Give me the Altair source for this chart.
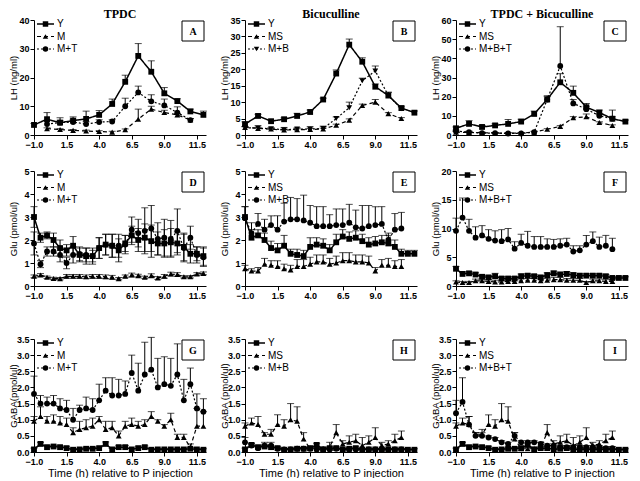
import altair as alt
import pandas as pd

# ---------------- time grids ----------------
HOURS = [-1, 0, 1, 2, 3, 4, 5, 6, 7, 8, 9, 10, 11, 12]
HALF = [-1.0, -0.5, 0.0, 0.5, 1.0, 1.5, 2.0, 2.5, 3.0, 3.5, 4.0, 4.5, 5.0, 5.5,
        6.0, 6.5, 7.0, 7.5, 8.0, 8.5, 9.0, 9.5, 10.0, 10.5, 11.0, 11.5, 12.0]

# ---------------- Panel A : LH, TPDC ----------------
A_Y = [3.5, 5.5, 4.3, 5.0, 5.6, 7.0, 10.8, 18.5, 27.5, 22.0, 14.5, 11.8, 8.2, 7.0]
A_Y_ERR = [0.5, 2.3, 1.7, 1.3, 2.7, 1.5, 1.7, 2.3, 4.3, 3.8, 2.0, 0.8, 0.8, 1.3]
A_M = [2.2, 1.9, 1.6, 1.4, 1.2, 1.0, 1.8, 5.5, 9.0, 7.8, 7.0, 5.2]
A_M_ERR = [0.3, 0.3, 0.3, 0.3, 0.3, 0.3, 0.3, 3.5, 1.0, 0.8, 0.5, 0.5]
A_MT = [3.8, 4.3, 4.5, 3.8, 4.5, 4.7, 10.0, 14.8, 11.7, 10.3, 7.8, 5.2]
A_MT_ERR = [1.2, 0.8, 1.0, 0.8, 0.8, 0.6, 2.8, 2.2, 2.3, 2.2, 2.0, 0.5]

# ---------------- Panel B : LH, Bicuculline ----------------
B_Y = [3.3, 5.8, 4.2, 4.8, 5.8, 7.0, 10.8, 18.7, 27.5, 22.3, 14.7, 12.0, 8.2, 6.8]
B_Y_ERR = [0.7, 0.5, 0.3, 0.4, 0.8, 0.6, 0.4, 1.1, 1.7, 1.2, 0.8, 1.0, 0.6, 0.5]
B_MS = [2.3, 2.0, 1.8, 1.5, 1.6, 1.7, 1.8, 3.0, 4.5, 9.0, 10.0, 6.5, 5.0]
B_MS_ERR = [0.3, 0.3, 0.3, 0.3, 0.3, 0.3, 0.3, 0.3, 0.4, 0.4, 0.8, 0.3, 0.3]
B_MB = [2.2, 2.1, 1.9, 1.6, 1.8, 1.8, 2.0, 5.0, 8.3, 16.5, 19.5, 12.0, 8.0]
B_MB_ERR = [0.3, 0.7, 0.3, 0.7, 0.4, 0.7, 0.7, 0.5, 1.7, 0.8, 1.5, 1.0, 0.5]

# ---------------- Panel C : LH, TPDC + Bicuculline ----------------
C_Y = [3.5, 5.8, 4.2, 5.0, 5.8, 7.0, 11.0, 18.5, 27.5, 22.0, 14.5, 11.7, 8.5, 7.0]
C_Y_ERR = [0.7, 1.7, 0.8, 0.8, 2.3, 1.2, 1.5, 2.0, 4.5, 3.5, 2.0, 1.3, 1.0, 0.8]
C_MS = [1.5, 1.3, 1.2, 1.0, 1.0, 1.0, 1.5, 3.0, 4.5, 9.0, 9.5, 6.5, 5.0]
C_MS_ERR = [0.3, 0.3, 0.3, 0.3, 0.3, 0.3, 0.3, 0.3, 0.4, 0.6, 1.5, 0.4, 0.3]
C_MBT = [2.0, 1.5, 1.0, 1.0, 0.8, 0.8, 1.5, 18.5, 36.0, 16.5, 13.5, 10.0, 8.5]
C_MBT_ERR = [0.5, 0.5, 0.3, 0.3, 0.3, 0.3, 0.5, 1.5, 20.5, 2.0, 1.5, 1.0, 4.5]

# ---------------- Panel D : Glu, TPDC ----------------
D_Y = [3.0, 2.1, 2.2, 2.0, 1.65, 1.55, 1.75, 1.35, 1.3, 1.3, 1.65, 1.8, 1.75, 1.55,
       1.85, 2.2, 2.0, 2.1, 1.95, 1.85, 1.85, 1.9, 1.85, 1.7, 1.4, 1.4, 1.3]
D_Y_ERR = [0.45, 0.2, 0.15, 0.3, 0.35, 0.25, 0.4, 0.3, 0.35, 0.25, 0.45, 0.45, 0.5, 0.5,
           0.35, 0.4, 0.5, 0.6, 0.7, 0.5, 0.6, 0.6, 0.5, 0.6, 0.4, 0.3, 0.4]
D_M = [0.42, 0.48, 0.38, 0.33, 0.32, 0.42, 0.42, 0.42, 0.4, 0.42, 0.42, 0.4, 0.38, 0.32,
       0.42, 0.48, 0.45, 0.38, 0.45, 0.35, 0.42, 0.52, 0.5, 0.4, 0.4, 0.52, 0.55]
D_M_ERR = [0.06, 0.06, 0.05, 0.05, 0.05, 0.08, 0.08, 0.08, 0.08, 0.08, 0.08, 0.08, 0.08, 0.05,
           0.06, 0.08, 0.06, 0.05, 0.08, 0.06, 0.08, 0.08, 0.08, 0.05, 0.05, 0.06, 0.06]
D_MT = [1.85, 0.95, 1.5, 1.5, 1.35, 1.0, 1.35, 1.4, 1.35, 1.3, 1.65, 1.8, 1.75, 1.75,
        1.8, 2.45, 2.3, 2.4, 2.5, 2.05, 2.1, 2.05, 2.4, 1.65, 2.1, 1.35, 1.25]
D_MT_ERR = [0.5, 0.15, 0.2, 0.2, 0.3, 0.25, 0.35, 0.3, 0.3, 0.35, 0.45, 0.45, 0.5, 0.5,
            0.4, 0.55, 0.6, 1.0, 1.0, 0.7, 0.8, 0.8, 0.95, 0.6, 0.5, 0.35, 0.4]

# ---------------- Panel E : Glu, Bicuculline ----------------
E_Y = [3.0, 2.1, 2.2, 2.0, 1.65, 1.55, 1.75, 1.4, 1.35, 1.3, 1.7, 1.8, 1.75, 1.55,
       1.9, 2.15, 2.05, 2.1, 1.95, 1.8, 1.85, 1.9, 1.85, 1.7, 1.4, 1.4, 1.4]
E_Y_ERR = [0.45, 0.35, 0.25, 0.3, 0.3, 0.3, 0.45, 0.2, 0.25, 0.25, 0.4, 0.3, 0.3, 0.25,
           0.35, 0.3, 0.3, 0.3, 0.3, 0.3, 0.3, 0.3, 0.35, 0.3, 0.2, 0.15, 0.15]
E_MS = [0.75, 0.65, 0.65, 0.95, 0.9, 0.85, 0.75, 0.7, 0.85, 0.85, 0.95, 1.05, 1.05,
        0.95, 1.0, 1.1, 1.1, 1.05, 1.05, 1.0, 0.65, 0.9, 0.9, 0.85, 0.85]
E_MS_ERR = [0.15, 0.1, 0.15, 0.25, 0.2, 0.25, 0.2, 0.2, 0.3, 0.3, 0.3, 0.3, 0.3,
            0.25, 0.3, 0.35, 0.35, 0.3, 0.3, 0.3, 0.15, 0.25, 0.3, 0.25, 0.3]
E_MB = [2.95, 2.3, 2.7, 2.45, 2.65, 2.45, 2.8, 2.9, 2.9, 2.85, 2.75, 2.6, 2.6,
        2.6, 2.65, 2.65, 2.75, 2.55, 2.5, 2.6, 2.65, 2.7, 2.0, 2.45, 2.5]
E_MB_ERR = [0.5, 0.45, 0.45, 0.45, 0.4, 0.6, 0.8, 0.95, 0.9, 1.1, 0.75, 0.85, 0.85,
            0.5, 0.7, 0.7, 0.8, 0.75, 1.0, 0.9, 0.8, 0.75, 0.3, 0.7, 0.7]

# ---------------- Panel F : Glu, TPDC + Bicuculline ----------------
F_Y = [3.0, 2.1, 2.2, 2.0, 1.6, 1.5, 1.7, 1.3, 1.3, 1.3, 1.7, 1.8, 1.7, 1.5,
       1.9, 2.2, 2.0, 2.1, 1.9, 1.8, 1.8, 1.8, 1.8, 1.7, 1.4, 1.4, 1.4]
F_Y_ERR = [0.4, 0.3, 0.3, 0.3, 0.3, 0.3, 0.5, 0.3, 0.3, 0.3, 0.4, 0.3, 0.3, 0.3,
           0.4, 0.4, 0.4, 0.4, 0.4, 0.3, 0.3, 0.3, 0.3, 0.3, 0.2, 0.2, 0.2]
F_MS = [0.7, 0.6, 0.6, 0.9, 0.9, 0.8, 0.7, 0.7, 0.8, 0.8, 0.9, 1.0, 1.0,
        0.9, 1.0, 1.1, 1.1, 1.0, 1.0, 1.0, 0.6, 0.9, 0.9, 0.8, 0.8]
F_MS_ERR = [0.2, 0.2, 0.2, 0.3, 0.3, 0.3, 0.3, 0.3, 0.3, 0.3, 0.3, 0.3, 0.3,
            0.3, 0.3, 0.4, 0.4, 0.3, 0.3, 0.3, 0.2, 0.3, 0.3, 0.3, 0.3]
F_MBT = [9.6, 11.9, 9.6, 8.4, 8.8, 8.2, 7.9, 7.8, 8.1, 6.5, 7.5, 7.0, 6.8,
         6.8, 6.8, 6.8, 7.0, 7.2, 6.0, 6.2, 7.2, 7.8, 6.8, 7.0, 6.4]
F_MBT_ERR = [2.2, 3.4, 2.0, 1.9, 1.7, 1.6, 1.7, 2.0, 1.9, 1.2, 1.5, 2.5, 1.8,
             1.8, 1.4, 1.3, 1.2, 1.1, 1.0, 0.8, 1.6, 1.6, 1.7, 1.8, 1.9]

# ---------------- Panel G : GABA, TPDC ----------------
G_Y = [0.08, 0.25, 0.15, 0.17, 0.15, 0.12, 0.07, 0.08, 0.1, 0.1, 0.12, 0.25, 0.08, 0.15,
       0.15, 0.08, 0.12, 0.15, 0.07, 0.08, 0.08, 0.08, 0.08, 0.08, 0.1, 0.08, 0.07]
G_Y_ERR = [0.04, 0.05, 0.04, 0.04, 0.04, 0.04, 0.03, 0.03, 0.04, 0.04, 0.04, 0.06, 0.03, 0.04,
           0.05, 0.03, 0.04, 0.04, 0.03, 0.03, 0.03, 0.03, 0.03, 0.03, 0.04, 0.03, 0.03]
G_M = [0.95, 1.1, 0.95, 0.95, 0.9, 0.85, 0.6, 0.7, 0.75, 0.8, 1.0, 0.7, 0.75, 0.5,
       0.8, 0.85, 0.8, 0.85, 1.1, 0.95, 0.8, 1.0, 0.45, 0.45, 0.15, 0.8, 0.8]
G_M_ERR = [0.15, 0.3, 0.15, 0.2, 0.2, 0.2, 0.15, 0.25, 0.25, 0.25, 0.1, 0.25, 0.2, 0.15,
           0.15, 0.2, 0.15, 0.15, 0.15, 0.05, 0.05, 0.2, 0.1, 0.1, 0.1, 0.55, 0.45]
G_MT = [1.8, 1.5, 1.5, 1.5, 1.35, 1.3, 1.0, 1.3, 1.35, 1.3, 1.6, 1.9, 1.75, 1.75,
        1.8, 2.45, 1.9, 2.4, 2.55, 2.0, 2.1, 2.05, 2.4, 1.6, 2.1, 1.35, 1.25]
G_MT_ERR = [0.55, 0.25, 0.2, 0.25, 0.3, 0.3, 0.35, 0.15, 0.35, 0.35, 0.5, 0.4, 0.55, 0.5,
            0.4, 0.55, 0.85, 1.0, 1.0, 0.9, 0.85, 0.85, 0.95, 0.65, 0.5, 0.45, 0.4]

# ---------------- Panel H : GABA, Bicuculline ----------------
H_Y = [0.08, 0.22, 0.15, 0.17, 0.15, 0.12, 0.07, 0.08, 0.1, 0.1, 0.12, 0.22, 0.08, 0.12,
       0.12, 0.08, 0.1, 0.12, 0.07, 0.08, 0.08, 0.08, 0.08, 0.08, 0.08, 0.07, 0.07]
H_Y_ERR = [0.04, 0.05, 0.04, 0.04, 0.04, 0.04, 0.03, 0.03, 0.04, 0.04, 0.04, 0.05, 0.03, 0.04,
           0.04, 0.03, 0.04, 0.04, 0.03, 0.03, 0.03, 0.03, 0.03, 0.03, 0.03, 0.03, 0.03]
H_MS = [0.8, 0.9, 0.85, 0.55, 0.55, 0.85, 0.8, 1.0, 0.95, 0.4, 0.1, 0.1, 0.1,
        0.15, 0.6, 0.25, 0.3, 0.35, 0.2, 0.3, 0.45, 0.2, 0.25, 0.35, 0.45]
H_MS_ERR = [0.1, 0.15, 0.25, 0.05, 0.15, 0.3, 0.2, 0.5, 0.45, 0.2, 0.05, 0.05, 0.05,
            0.15, 0.25, 0.1, 0.2, 0.2, 0.25, 0.2, 0.3, 0.1, 0.1, 0.2, 0.2]
H_MB = [0.3, 0.2, 0.12, 0.2, 0.2, 0.1, 0.08, 0.08, 0.1, 0.1, 0.1, 0.08, 0.08,
        0.08, 0.1, 0.08, 0.08, 0.08, 0.08, 0.08, 0.08, 0.08, 0.08, 0.08, 0.08]
H_MB_ERR = [0.15, 0.05, 0.05, 0.1, 0.1, 0.05, 0.03, 0.03, 0.03, 0.03, 0.03, 0.03, 0.03,
            0.03, 0.03, 0.03, 0.03, 0.03, 0.03, 0.03, 0.03, 0.03, 0.03, 0.03, 0.03]

# ---------------- Panel I : GABA, TPDC + Bicuculline ----------------
I_Y = [0.08, 0.25, 0.15, 0.17, 0.15, 0.12, 0.07, 0.08, 0.1, 0.1, 0.12, 0.22, 0.08, 0.12,
       0.12, 0.08, 0.1, 0.12, 0.07, 0.08, 0.08, 0.08, 0.08, 0.08, 0.08, 0.07, 0.07]
I_Y_ERR = [0.04, 0.05, 0.04, 0.04, 0.04, 0.04, 0.03, 0.03, 0.04, 0.04, 0.04, 0.05, 0.03, 0.04,
           0.04, 0.03, 0.04, 0.04, 0.03, 0.03, 0.03, 0.03, 0.03, 0.03, 0.03, 0.03, 0.03]
I_MS = [0.8, 0.9, 0.85, 0.55, 0.55, 0.85, 0.8, 1.0, 0.95, 0.4, 0.1, 0.1, 0.1,
        0.15, 0.6, 0.25, 0.3, 0.35, 0.2, 0.3, 0.45, 0.2, 0.25, 0.35, 0.45]
I_MS_ERR = [0.1, 0.15, 0.25, 0.05, 0.15, 0.3, 0.2, 0.5, 0.45, 0.2, 0.05, 0.05, 0.05,
            0.15, 0.25, 0.1, 0.2, 0.2, 0.25, 0.2, 0.3, 0.1, 0.1, 0.2, 0.2]
I_MBT = [1.2, 1.55, 0.85, 0.5, 0.5, 0.45, 0.4, 0.3, 0.25, 0.5, 0.3, 0.3, 0.3,
         0.25, 0.2, 0.2, 0.15, 0.15, 0.15, 0.15, 0.15, 0.15, 0.15, 0.12, 0.12]
I_MBT_ERR = [0.4, 0.75, 0.25, 0.1, 0.1, 0.05, 0.05, 0.05, 0.05, 0.1, 0.05, 0.05, 0.05,
             0.05, 0.05, 0.05, 0.05, 0.05, 0.05, 0.05, 0.05, 0.05, 0.05, 0.05, 0.05]

COL_TITLES = ["TPDC", "Bicuculline", "TPDC + Bicuculline"]
X_TICKS = [-1.0, 1.5, 4.0, 6.5, 9.0, 11.5]
X_TITLE = "Time (h) relative to P injection"

# ---------------- drawing helpers ----------------
W = 172
SOLID, DASHED, DOTTED = [1, 0], [4, 3], [2, 2]


def series(name, x, y, err, shape, dash):
    return dict(name=name, x=x, y=y, err=err, shape=shape, dash=dash)


def panel(letter, ytitle, ymax, yticks, yfmt, sers, h, title=None, xtitle=None,
          both=False):
    xs = alt.Scale(domain=[-1.0, 12.2], nice=False, zero=False)
    ys = alt.Scale(domain=[0, ymax], nice=False, zero=True)
    xax = alt.Axis(values=X_TICKS, format=".1f", title=xtitle)
    yax = alt.Axis(values=yticks, format=yfmt, title=ytitle,
                   minExtent=15, maxExtent=15, titlePadding=1)

    def X():
        return alt.X("t:Q", scale=xs, axis=xax)

    def Y(f):
        return alt.Y(f + ":Q", scale=ys, axis=yax)

    layers = []
    for s in sers:
        df = pd.DataFrame({"t": s["x"], "v": s["y"], "e": s["err"]})
        df["hi"] = df["v"] + df["e"]
        df["lo"] = df["v"] - df["e"] if both else df["v"]
        base = alt.Chart(df)
        sw = 1.5 if s["dash"] == SOLID else 1.2
        layers.append(base.mark_rule(color="black", strokeWidth=1).encode(
            x=X(), y=Y("lo"), y2="hi:Q"))
        layers.append(base.mark_tick(color="black", orient="horizontal",
                                     size=7, thickness=1).encode(x=X(), y=Y("hi")))
        if both:
            layers.append(base.mark_tick(color="black", orient="horizontal",
                                         size=7, thickness=1).encode(x=X(), y=Y("lo")))
        layers.append(base.mark_line(color="black", strokeWidth=sw,
                                     strokeDash=s["dash"]).encode(x=X(), y=Y("v")))
        layers.append(base.mark_point(color="black", filled=True, opacity=1,
                                      shape=s["shape"], size=34).encode(x=X(), y=Y("v")))

    # in-plot legend
    for i, s in enumerate(sers):
        ly = 4 + 12.5 * i
        ldf = pd.DataFrame({"s": [s["name"]]})
        lb = alt.Chart(ldf)
        sw = 1.5 if s["dash"] == SOLID else 1.2
        layers.append(lb.mark_rule(color="black", strokeWidth=sw, strokeDash=s["dash"]).encode(
            x=alt.value(3), x2=alt.value(20), y=alt.value(ly)))
        layers.append(lb.mark_point(color="black", filled=True, opacity=1,
                                    shape=s["shape"], size=30).encode(
            x=alt.value(11.5), y=alt.value(ly)))
        layers.append(lb.mark_text(align="left", baseline="middle", fontSize=10,
                                   font="Liberation Sans", color="black").encode(
            x=alt.value(23), y=alt.value(ly), text="s:N"))

    # panel letter box
    bdf = pd.DataFrame({"s": [letter]})
    bb = alt.Chart(bdf)
    layers.append(bb.mark_rect(fill="white", stroke="black", strokeWidth=1).encode(
        x=alt.value(W - 24), x2=alt.value(W - 2), y=alt.value(1), y2=alt.value(21)))
    layers.append(bb.mark_text(align="center", baseline="middle", fontSize=10,
                               font="Liberation Serif", fontWeight="bold",
                               color="black").encode(
        x=alt.value(W - 13), y=alt.value(11.5), text="s:N"))

    props = dict(width=W, height=h)
    if title:
        props["title"] = alt.TitleParams(title, font="Liberation Serif", fontSize=12,
                                         fontWeight="bold", anchor="middle",
                                         frame="group", offset=-5, color="black")
    return alt.layer(*layers).properties(**props)


LH = "LH (ng/ml)"
GLU = "Glu (pmol/ul)"
GT = [0, 0.5, 1.0, 1.5, 2.0, 2.5, 3.0, 3.5]

pA = panel("A", LH, 40, [0, 10, 20, 30, 40], "d", [
    series("Y", HOURS, A_Y, A_Y_ERR, "square", SOLID),
    series("M", HOURS[1:13], A_M, A_M_ERR, "triangle-up", DASHED),
    series("M+T", HOURS[1:13], A_MT, A_MT_ERR, "circle", DOTTED)], 115, title=COL_TITLES[0])
pB = panel("B", LH, 35, [0, 5, 10, 15, 20, 25, 30, 35], "d", [
    series("Y", HOURS, B_Y, B_Y_ERR, "square", SOLID),
    series("MS", HOURS[:13], B_MS, B_MS_ERR, "triangle-up", DASHED),
    series("M+B", HOURS[:13], B_MB, B_MB_ERR, "triangle-down", DOTTED)], 115, title=COL_TITLES[1])
pC = panel("C", LH, 60, [0, 10, 20, 30, 40, 50, 60], "d", [
    series("Y", HOURS, C_Y, C_Y_ERR, "square", SOLID),
    series("MS", HOURS[:13], C_MS, C_MS_ERR, "triangle-up", DASHED),
    series("M+B+T", HOURS[:13], C_MBT, C_MBT_ERR, "circle", DOTTED)], 115, title=COL_TITLES[2])

pD = panel("D", GLU, 5, [0, 1, 2, 3, 4, 5], "d", [
    series("Y", HALF, D_Y, D_Y_ERR, "square", SOLID),
    series("M", HALF, D_M, D_M_ERR, "triangle-up", DASHED),
    series("M+T", HALF, D_MT, D_MT_ERR, "circle", DOTTED)], 115, both=True)
pE = panel("E", GLU, 5, [0, 1, 2, 3, 4, 5], "d", [
    series("Y", HALF, E_Y, E_Y_ERR, "square", SOLID),
    series("MS", HALF[:25], E_MS, E_MS_ERR, "triangle-up", DASHED),
    series("M+B", HALF[:25], E_MB, E_MB_ERR, "circle", DOTTED)], 115)
pF = panel("F", GLU, 20, [0, 5, 10, 15, 20], "d", [
    series("Y", HALF, F_Y, F_Y_ERR, "square", SOLID),
    series("MS", HALF[:25], F_MS, F_MS_ERR, "triangle-up", DASHED),
    series("M+B+T", HALF[:25], F_MBT, F_MBT_ERR, "circle", DOTTED)], 115)

pG = panel("G", "GABA(pmol/ul)", 3.5, GT, ".1f", [
    series("Y", HALF, G_Y, G_Y_ERR, "square", SOLID),
    series("M", HALF, G_M, G_M_ERR, "triangle-up", DASHED),
    series("M+T", HALF, G_MT, G_MT_ERR, "circle", DOTTED)], 113, xtitle=X_TITLE)
pH = panel("H", "GABA (pmol/ul)", 3.5, GT, ".1f", [
    series("Y", HALF, H_Y, H_Y_ERR, "square", SOLID),
    series("MS", HALF[:25], H_MS, H_MS_ERR, "triangle-up", DASHED),
    series("M+B", HALF[:25], H_MB, H_MB_ERR, "circle", DOTTED)], 113, xtitle=X_TITLE)
pI = panel("I", "GABA (pmol/ul)", 3.5, GT, ".1f", [
    series("Y", HALF, I_Y, I_Y_ERR, "square", SOLID),
    series("MS", HALF[:25], I_MS, I_MS_ERR, "triangle-up", DASHED),
    series("M+B+T", HALF[:25], I_MBT, I_MBT_ERR, "circle", DOTTED)], 113, xtitle=X_TITLE)

row1 = alt.hconcat(pA, pB, pC, spacing=12)
row2 = alt.hconcat(pD, pE, pF, spacing=12)
row3 = alt.hconcat(pG, pH, pI, spacing=12)

chart = alt.vconcat(row1, alt.vconcat(row2, row3, spacing=35), spacing=18).properties(
    padding=0, background="white"
).configure_view(stroke=None).configure_axis(
    grid=False, domainColor="black", tickColor="black", labelColor="black",
    titleColor="black", domainWidth=1, tickWidth=1, tickSize=4, labelPadding=1,
    labelFont="Liberation Sans", labelFontWeight="bold", labelFontSize=9,
    titleFont="Liberation Sans", titleFontWeight="normal", titleFontSize=9.5,
).configure_axisX(titlePadding=1, titleFontSize=11, labelFlush=False)

chart.save("out.html", embed_options={"renderer": "svg", "actions": False})
